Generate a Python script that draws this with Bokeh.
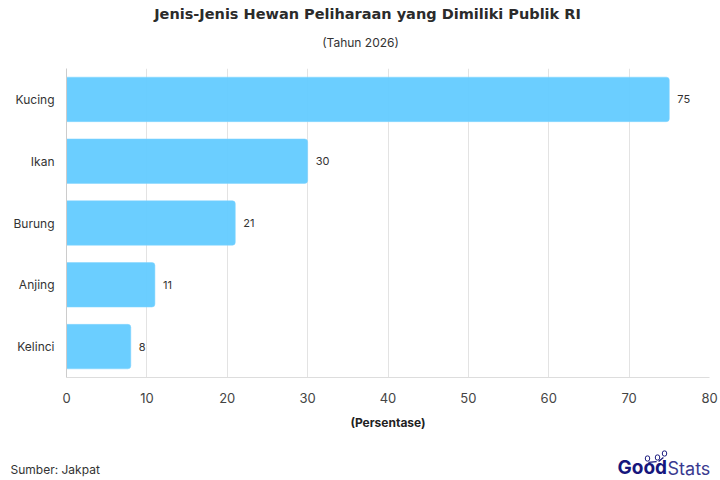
from bokeh.plotting import figure
from bokeh.models import ColumnDataSource, FactorRange, Range1d, Label, LabelSet, FixedTicker
from bokeh.core.properties import value
from bokeh.embed import file_html
from bokeh.resources import INLINE

categories = ["Kucing", "Ikan", "Burung", "Anjing", "Kelinci"]
values = [75, 30, 21, 11, 8]
x_ticks = [0, 10, 20, 30, 40, 50, 60, 70, 80]
title_text = "Jenis-Jenis Hewan Peliharaan yang Dimiliki Publik RI"
subtitle_text = "(Tahun 2026)"
x_label_text = "(Persentase)"
source_text = "Sumber: Jakpat"

FONT = "Inter"
TITLE_FONT = "DejaVu Sans"
NAVY = "#16167c"
W, H = 720, 480
LEFT, TOP, BOTTOM_Y = 66, 68, 377

src = ColumnDataSource(dict(cat=categories, val=values, txt=[str(v) for v in values]))
p = figure(width=W, height=H, output_backend="svg", toolbar_location=None,
           y_range=FactorRange(factors=categories[::-1]), x_range=Range1d(0, 80),
           min_border_left=LEFT, min_border_right=11, min_border_top=TOP, min_border_bottom=H - BOTTOM_Y)
p.outline_line_color = None
p.hbar(y="cat", left=0, right="val", height=0.72, source=src, fill_color="#66CCFF", fill_alpha=0.97,
       line_color="#80D4FF", line_width=0.5, border_radius=(0, 3, 3, 0))
p.add_layout(LabelSet(x="val", y="cat", text="txt", source=src, x_offset=8, text_align="left",
                      text_baseline="middle", text_font=value(FONT), text_font_size="11px", text_color="#333333"))

p.xaxis.ticker = FixedTicker(ticks=x_ticks)
p.xaxis.major_tick_line_color = None
p.xaxis.minor_tick_line_color = None
p.xaxis.axis_line_color = "#dddddd"
p.xaxis.major_label_text_font = FONT
p.xaxis.major_label_text_font_size = "13px"
p.xaxis.major_label_text_color = "#444444"
p.xaxis.major_label_standoff = 9
p.xaxis.axis_label = x_label_text
p.xaxis.axis_label_text_font = FONT
p.xaxis.axis_label_text_font_size = "12px"
p.xaxis.axis_label_text_font_style = "bold"
p.xaxis.axis_label_text_color = "#222222"
p.xaxis.axis_label_standoff = 9

p.yaxis.major_tick_line_color = None
p.yaxis.minor_tick_line_color = None
p.yaxis.axis_line_color = "#cccccc"
p.yaxis.major_label_text_font = FONT
p.yaxis.major_label_text_font_size = "12px"
p.yaxis.major_label_text_color = "#333333"
p.yaxis.major_label_standoff = 6

p.ygrid.grid_line_color = None
p.xgrid.grid_line_color = "#e3e3e3"

def lab(text, x, y, panel_bottom, place, size, color="#333333", style="normal", align="left", font=FONT):
    p.add_layout(Label(x=x - LEFT, y=panel_bottom - y, x_units="screen", y_units="screen", text=text, text_font=font,
                       text_font_size=size, text_color=color, text_font_style=style,
                       text_align=align, text_baseline="middle"), place)

lab(title_text, 367, 13, 68, "above", "14.5px", "#2b2b2b", "bold", "center", TITLE_FONT)
lab(subtitle_text, 360, 41, 51, "above", "12px", "#333333", "normal", "center")
lab("Stats", 667, 468, 37, "above", "18px", "#3a3a8f")
lab(source_text, 10, 470, 448, "below", "12px", "#333333")
lab("Good", 617, 468, 471, "below", "19px", NAVY, "bold")

def mark(x, y, panel_bottom, place, pad, radius, angle=0.0, line=None, fill=NAVY):
    p.add_layout(Label(x=x - LEFT, y=panel_bottom - y, x_units="screen", y_units="screen", text=" ",
                       text_font=FONT, text_font_size="1px", text_align="center", text_baseline="middle",
                       padding=pad, border_radius=radius, angle=angle, border_line_color=line,
                       background_fill_color=fill), place)

# last ring sits in the upper panel stack, the first two in the lower one
mark(664, 452, 15, "above", 2, 2, 0.0, NAVY, "white")
mark(647, 459, 476, "below", 2, 2, 0.0, NAVY, "white")
mark(657, 458, 481, "below", 2, 2, 0.0, NAVY, "white")

seg_mid_x = [652, 660.5]
seg_mid_y = [458.5, 455]
seg_angle = [0.1, 0.7]
seg_pad = [(4, 0), (3, 0)]
seg_bottom = [8, 6]
for mx, my, a, pd, b in zip(seg_mid_x, seg_mid_y, seg_angle, seg_pad, seg_bottom):
    mark(mx, my, b, "above", pd, 0, a)

open("out.html", "w").write(file_html(p, INLINE))
